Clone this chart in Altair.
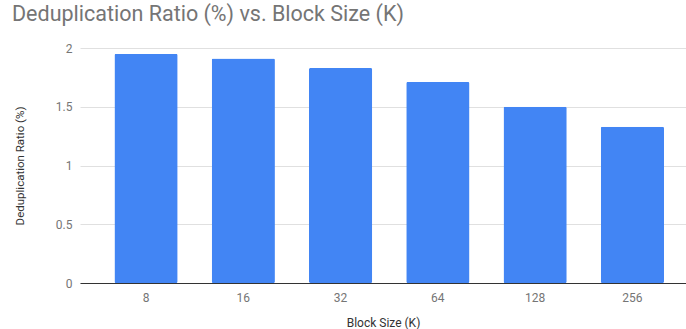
import altair as alt
import pandas as pd

block_sizes = ["8", "16", "32", "64", "128", "256"]
dedup_ratio = [1.95, 1.91, 1.83, 1.71, 1.50, 1.33]

df = pd.DataFrame({"block": block_sizes, "ratio": dedup_ratio})

chart = alt.Chart(df).mark_bar(color="#4285F4", cornerRadius=1.5).encode(
    x=alt.X("block:N", sort=block_sizes, title="Block Size (K)",
            scale=alt.Scale(paddingInner=0.35, paddingOuter=0.29, align=0.61),
            axis=alt.Axis(labelAngle=0, ticks=False, domainColor="#333333",
                          labelPadding=9, titlePadding=14)),
    y=alt.Y("ratio:Q", title="Deduplication Ratio (%)",
            scale=alt.Scale(domain=[0, 2]),
            axis=alt.Axis(values=[0, 0.5, 1, 1.5, 2], ticks=False, domain=False,
                          labelPadding=8, gridColor="#e0e0e0", titlePadding=30,
                          titleFontSize=11.5,
                          labelExpr="datum.value == 0 ? '0' : format(datum.value, '')")),
).properties(
    width=606, height=235,
    title=alt.TitleParams("Deduplication Ratio (%) vs. Block Size (K)", anchor="start",
                          frame="group", dx=-68, offset=17, fontSize=21.5, font="Roboto",
                          fontWeight="normal", color="#757575"),
    autosize=alt.AutoSizeParams(type="none"),
    padding={"left": 80, "top": 48, "right": 0, "bottom": 46},
).configure_axis(
    labelFont="Roboto", titleFont="Roboto", labelFontSize=12, titleFontSize=12,
    labelColor="#757575", titleColor="#333333", titleFontWeight="normal",
).configure_view(stroke=None)

chart.save("out.html", embed_options={"renderer": "svg", "actions": False})
